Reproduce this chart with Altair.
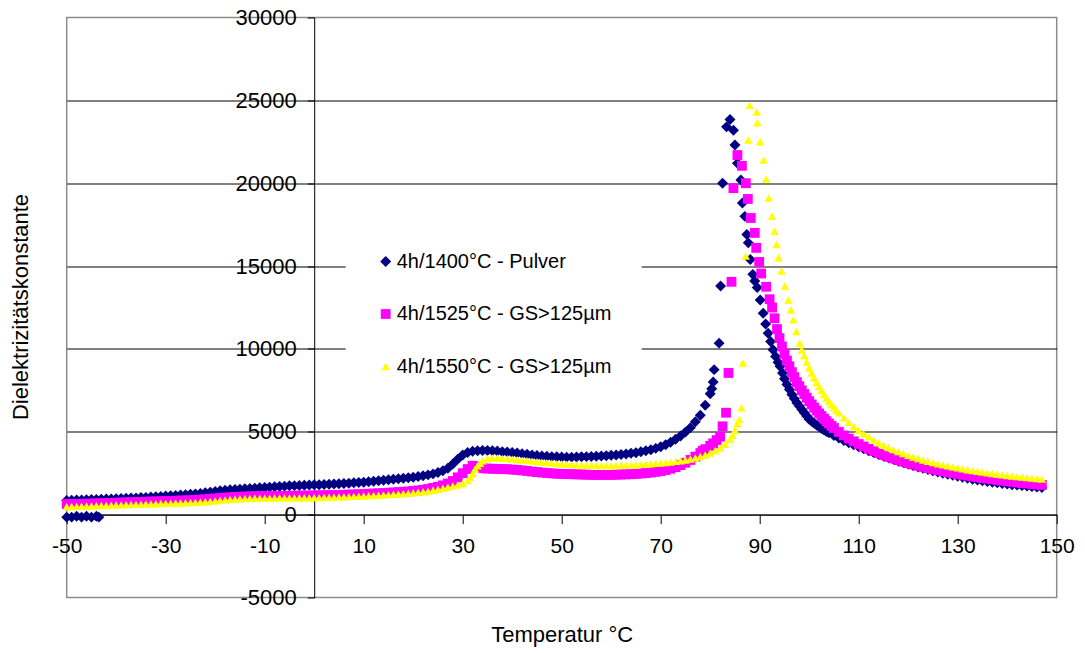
import altair as alt
import pandas as pd

series_names = ["4h/1400°C - Pulver", "4h/1525°C - GS>125µm", "4h/1550°C - GS>125µm"]
series_colors = ["#000080", "#FF00FF", "#FFFF00"]
series_shapes = ["diamond", "square", "triangle-up"]
series_sizes = [120, 72, 125]

x_ticks = [-50, -30, -10, 10, 30, 50, 70, 90, 110, 130, 150]
y_ticks = [-5000, 0, 5000, 10000, 15000, 20000, 25000, 30000]

# ---- 4h/1400°C - Pulver (navy diamonds) ----
t_navy_low = [-50, -49, -48, -47, -46, -45, -44, -43.5]
e_navy_low = [-150, -150, -100, -150, -100, -150, -100, -150]

t_navy = list(range(-50, 81)) + [80.3, 80.6, 80.8, 81.8, 82.1, 82.5, 83.3, 84.0, 84.7, 85.0, 85.5,
                                 86.2, 86.5, 87.0, 87.4, 87.7, 88.1, 88.6, 89.0, 89.5, 90.1, 90.7,
                                 91.2, 91.7, 92.2, 92.7, 93.2, 93.7, 94.1, 94.6, 95.0, 95.5, 96.0,
                                 96.5, 97.0, 97.5, 98.0, 98.5, 99.0, 99.5, 100.0, 100.5, 101.0,
                                 101.5, 102.0, 102.5, 103.0, 103.5] + list(range(104, 148))
e_navy = [
    850, 870, 880, 890, 900, 910, 920, 930, 940, 950,            # -50..-41
    960, 980, 990, 1000, 1010, 1030, 1040, 1060, 1080, 1100,     # -40..-31
    1120, 1140, 1160, 1180, 1200, 1230, 1250, 1280, 1320, 1360,  # -30..-21
    1400, 1440, 1470, 1500, 1520, 1540, 1560, 1580, 1600, 1620,  # -20..-11
    1640, 1660, 1680, 1700, 1720, 1740, 1750, 1760, 1770, 1790,  # -10..-1
    1800, 1810, 1820, 1840, 1850, 1870, 1880, 1900, 1920, 1940,  # 0..9
    1960, 1990, 2020, 2050, 2080, 2110, 2140, 2170, 2200, 2230,  # 10..19
    2260, 2300, 2350, 2400, 2460, 2540, 2650, 2800, 3050, 3350,  # 20..29
    3600, 3750, 3820, 3850, 3870, 3870, 3860, 3840, 3800, 3780,  # 30..39
    3750, 3720, 3680, 3640, 3600, 3570, 3540, 3520, 3500, 3490,  # 40..49
    3480, 3470, 3470, 3480, 3490, 3500, 3510, 3520, 3540, 3560,  # 50..59
    3580, 3600, 3630, 3660, 3700, 3740, 3790, 3850, 3920, 4000,  # 60..69
    4100, 4220, 4370, 4550, 4750, 4980, 5250, 5600, 6000, 6600,  # 70..79
    7300,                                                        # 80
    7600, 8000, 8750, 10350, 13800, 20000, 23400, 23850, 23200, 22300, 21200,
    20200, 18800, 18000, 16900, 16400, 15400, 14500, 14100, 13700, 12950, 12150,
    11500, 10950, 10450, 9950, 9550, 9200, 8950, 8550, 8200, 7850, 7550,
    7250, 7000, 6750, 6550, 6350, 6150, 5950, 5750, 5630, 5520,
    5410, 5300, 5200, 5110, 5020,
    4940, 4780, 4630, 4480, 4340, 4210,                          # 104..109
    4090, 3970, 3860, 3750, 3640, 3540, 3440, 3340, 3240, 3150,  # 110..119
    3060, 2970, 2880, 2800, 2720, 2640, 2570, 2500, 2430, 2370,  # 120..129
    2310, 2250, 2190, 2140, 2090, 2040, 2000, 1960, 1920, 1880,  # 130..139
    1850, 1810, 1780, 1750, 1720, 1690, 1660, 1640,              # 140..147
]

# ---- 4h/1525°C - GS>125µm (magenta squares) ----
t_mag = list(range(-50, 79)) + [78.5, 79, 80, 80.6, 81.3, 82, 82.5, 83.2, 83.7, 84.3, 84.7, 85.5,
                                86.4, 87.2, 87.6, 88.2, 89.0, 89.3, 89.9, 90.3, 91.3, 92.0, 92.5,
                                93.0, 93.5, 94.0, 94.5, 95.0, 95.5, 96.0, 96.5, 97.0, 97.5, 98.0,
                                98.5, 99.0, 99.5, 100.0, 100.5, 101.0, 101.5, 102.0, 102.5, 103.0,
                                103.5, 104.0, 104.5, 105.0] + list(range(106, 148))
e_mag = [
    640, 645, 650, 655, 660, 670, 680, 690, 700, 710,            # -50..-41
    720, 730, 740, 750, 760, 770, 780, 790, 800, 810,            # -40..-31
    820, 830, 840, 850, 860, 875, 890, 905, 925, 950,            # -30..-21
    975, 1000, 1025, 1050, 1065, 1080, 1090, 1100, 1105, 1110,   # -20..-11
    1115, 1120, 1125, 1130, 1135, 1140, 1145, 1150, 1150, 1155,  # -10..-1
    1160, 1165, 1170, 1175, 1180, 1190, 1200, 1210, 1220, 1230,  # 0..9
    1245, 1260, 1275, 1290, 1305, 1320, 1340, 1360, 1380, 1400,  # 10..19
    1430, 1460, 1500, 1550, 1610, 1680, 1770, 1880, 2030, 2250,  # 20..29
    2500, 2750, 2950, 2900, 2800, 2780, 2770, 2760, 2750, 2740,  # 30..39
    2720, 2700, 2670, 2640, 2600, 2570, 2540, 2510, 2490, 2470,  # 40..49
    2460, 2450, 2440, 2430, 2420, 2410, 2400, 2400, 2400, 2400,  # 50..59
    2400, 2410, 2420, 2430, 2440, 2460, 2480, 2510, 2540, 2580,  # 60..69
    2630, 2690, 2770, 2870, 2990, 3130, 3300, 3500, 3720,        # 70..78
    3850, 3950, 4150, 4300, 4500, 4700, 5330, 6150, 8550, 14050, 19700, 21700,
    21050, 20000, 19050, 17900, 17000, 16100, 15250, 14550, 13750, 13000, 12500,
    11850, 11200, 10650, 10150, 9700, 9300, 8950, 8600, 8300, 8000, 7750,
    7500, 7280, 7060, 6850, 6650, 6460, 6280, 6110, 5950, 5790,
    5640, 5500, 5360, 5230,
    4990, 4780, 4590, 4420,                                      # 106..109
    4260, 4110, 3970, 3840, 3720, 3600, 3490, 3390, 3290, 3200,  # 110..119
    3110, 3030, 2950, 2880, 2810, 2740, 2680, 2620, 2560, 2510,  # 120..129
    2450, 2400, 2350, 2300, 2260, 2210, 2170, 2130, 2090, 2050,  # 130..139
    2010, 1980, 1940, 1910, 1880, 1850, 1820, 1790,              # 140..147
]

# ---- 4h/1550°C - GS>125µm (yellow triangles) ----
t_yel = list(range(-50, 31)) + [31, 31.5, 32, 32.5, 33, 33.5, 34] + list(range(35, 85)) + \
        [84.5, 85, 85.5, 85.9, 86.3, 86.6, 87.2, 87.7, 88.0, 89.4, 89.5, 90.1, 90.8, 91.3, 91.8, 92.5,
         93.0, 93.4, 93.8, 94.4, 95.1, 95.8, 96.3, 96.8, 97.4, 98.1, 98.5, 99.0, 99.5, 100.0, 100.5,
         101.0, 101.5, 102.0, 102.5, 103.0, 103.5, 104.0, 104.5, 105.0, 105.5, 106.0] + \
        list(range(107, 148))
e_yel = [
    480, 490, 500, 510, 520, 530, 540, 550, 560, 570,            # -50..-41
    580, 590, 600, 610, 620, 630, 640, 650, 660, 670,            # -40..-31
    680, 690, 700, 710, 720, 730, 740, 760, 780, 800,            # -30..-21
    830, 860, 890, 920, 940, 960, 970, 980, 990, 995,            # -20..-11
    1000, 1000, 1005, 1010, 1010, 1015, 1015, 1020, 1020, 1020,  # -10..-1
    1025, 1030, 1040, 1050, 1060, 1070, 1080, 1090, 1100, 1110,  # 0..9
    1125, 1140, 1155, 1170, 1190, 1210, 1230, 1250, 1270, 1290,  # 10..19
    1320, 1350, 1380, 1420, 1470, 1530, 1590, 1660, 1730, 1800,  # 20..29
    1880,                                                        # 30
    2050, 2250, 2480, 2750, 2950, 3100, 3250,                    # 31..34
    3380, 3420, 3420, 3400, 3380,                                # 35..39
    3350, 3320, 3290, 3260, 3230, 3200, 3170, 3140, 3110, 3080,  # 40..49
    3060, 3040, 3020, 3000, 2990, 2980, 2970, 2960, 2960, 2960,  # 50..59
    2960, 2970, 2980, 2990, 3000, 3010, 3030, 3050, 3070, 3090,  # 60..69
    3110, 3140, 3170, 3210, 3250, 3300, 3360, 3430, 3510, 3600,  # 70..79
    3720, 3860, 4020, 4250, 4550,                                # 80..84
    4800, 5100, 5500, 5750, 6450, 9150, 15600, 22600, 24700, 24300, 23650, 22500, 21400, 20250, 19100, 18000,
    17100, 16300, 15500, 14700, 13800, 12950, 12350, 11750, 11050, 10350, 9950, 9600, 9200, 8850, 8550,
    8250, 7980, 7720, 7480, 7250, 7040, 6840, 6650, 6470, 6300, 6140,
    5840, 5570, 5320,                                            # 107..109
    5090, 4880, 4690, 4510, 4340, 4190, 4050, 3920, 3800, 3690,  # 110..119
    3580, 3480, 3390, 3300, 3220, 3140, 3070, 3000, 2940, 2880,  # 120..129
    2820, 2770, 2710, 2660, 2610, 2570, 2520, 2480, 2440, 2400,  # 130..139
    2360, 2330, 2290, 2260, 2230, 2200, 2170, 2140,              # 140..147
]

W, H = 990, 580
X_MIN, X_MAX = -50, 150
Y_MIN, Y_MAX = -5000, 30000
x_axis_offset = -H * (0 - Y_MIN) / (Y_MAX - Y_MIN)
y_axis_offset = -W * (0 - X_MIN) / (X_MAX - X_MIN)

FONT = "Liberation Sans"

frames = []
for name, ts, es in [(series_names[0], t_navy_low, e_navy_low),
                     (series_names[0], t_navy, e_navy),
                     (series_names[1], t_mag, e_mag),
                     (series_names[2], t_yel, e_yel)]:
    assert len(ts) == len(es), (name, len(ts), len(es))
    frames.append(pd.DataFrame({"series": name, "T": ts, "eps": es}))
df = pd.concat(frames, ignore_index=True)

legend_kw = dict(title=None, orient="none", legendX=279, legendY=204,
                 fillColor="#FFFFFF", padding=30, rowPadding=32.5,
                 labelFontSize=20, labelFont=FONT, labelColor="#000000",
                 labelLimit=400, labelOffset=1, symbolSize=50, symbolStrokeWidth=0)

chart = alt.Chart(df).mark_point(filled=True, opacity=1).encode(
    x=alt.X("T:Q",
            scale=alt.Scale(domain=[X_MIN, X_MAX], nice=False, zero=False),
            axis=alt.Axis(values=x_ticks, grid=False, offset=x_axis_offset,
                          domainColor="#000000", tickColor="#000000", tickSize=9,
                          labelExpr="'' + datum.value", labelFontSize=21, labelPadding=12,
                          labelColor="#000000", labelFont=FONT, labelFlush=False,
                          title="Temperatur °C", titleFont=FONT, titleFontSize=22,
                          titleFontWeight="normal", titleColor="#000000",
                          titleX=W / 2, titleY=120, titleBaseline="middle", titleAlign="center")),
    y=alt.Y("eps:Q",
            scale=alt.Scale(domain=[Y_MIN, Y_MAX], nice=False, zero=False),
            axis=alt.Axis(values=y_ticks, grid=True, offset=y_axis_offset,
                          gridColor="#000000", gridWidth=1,
                          gridOpacity={"condition": {"test": "datum.value == 30000 || datum.value == -5000",
                                                     "value": 0}, "value": 1},
                          domainColor="#000000", tickColor="#000000", tickSize=7,
                          labelExpr="'' + datum.value", labelFontSize=22, labelPadding=11,
                          labelColor="#000000", labelFont=FONT, labelFlush=False,
                          title="Dielektrizitätskonstante", titleFont=FONT, titleFontSize=22,
                          titleFontWeight="normal", titleColor="#000000",
                          titleX=20 - (-y_axis_offset + 66.7), titleY=289, titleAngle=270,
                          titleBaseline="middle", titleAlign="center")),
    color=alt.Color("series:N", scale=alt.Scale(domain=series_names, range=series_colors),
                    legend=alt.Legend(**legend_kw)),
    shape=alt.Shape("series:N", scale=alt.Scale(domain=series_names, range=series_shapes),
                    legend=alt.Legend(**legend_kw)),
    size=alt.Size("series:N", scale=alt.Scale(domain=series_names, range=series_sizes),
                  legend=None),
).properties(
    width=W, height=H,
    autosize=alt.AutoSizeParams(type="none"),
    padding={"left": 66.7, "top": 17.5, "right": 28.3, "bottom": 55.5},
    background="#FFFFFF",
).configure_view(stroke="#8c8c8c", strokeWidth=1.5)

chart.save("out.html", embed_options={"renderer": "svg", "actions": False})
